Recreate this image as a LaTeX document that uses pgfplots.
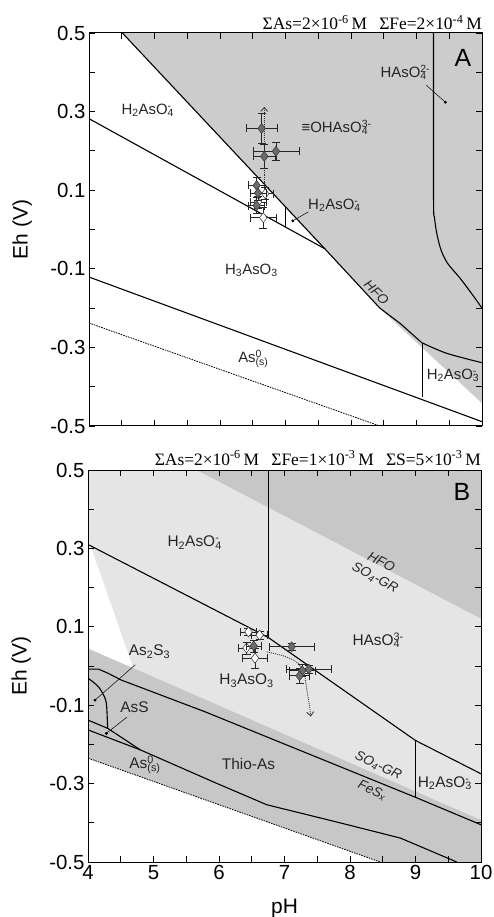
\documentclass[border=0pt]{standalone}
\usepackage{fontspec}
\setmainfont{Liberation Sans}
\newfontfamily\tnr{Liberation Serif}
\usepackage{pgfplots}
\pgfplotsset{compat=1.18}
\usetikzlibrary{arrows.meta}
\definecolor{gA}{gray}{0.80}
\definecolor{gL}{gray}{0.90}
\definecolor{gM}{gray}{0.78}
\definecolor{gD}{gray}{0.78}
\definecolor{mk}{gray}{0.42}
\newcommand{\subsup}[2]{\rlap{\textsubscript{#1}}\textsuperscript{#2}}
\newcommand{\topnote}[1]{{\tnr\fontsize{17.5}{17.5}\selectfont #1}}
\tikzset{
  lab/.style={font=\fontsize{15}{15}\selectfont, text=black!85},
  labB/.style={font=\fontsize{15.5}{15.5}\selectfont, text=black!85},
  rlab/.style={font=\fontsize{13.5}{13.5}\selectfont\itshape, text=black!85},
}
\pgfplotsset{
  pd/.style={
    scale only axis, width=393bp, height=393bp,
    xmin=4, xmax=10, ymin=-0.5, ymax=0.5,
    xtick={4,5,6,7,8,9,10}, minor x tick num=1,
    ytick={-0.5,-0.3,-0.1,0.1,0.3,0.5},
    yticklabels={-0.5,-0.3,-0.1,0.1,0.3,0.5},
    minor y tick num=1,
    major tick length=6bp, minor tick length=6bp,
    tick style={black, line width=0.8pt},
    axis line style={line width=1pt},
    tick label style={font=\fontsize{20.5}{20.5}\selectfont},
    axis on top, clip mode=individual,
    ylabel={Eh (V)},
    ylabel style={font=\fontsize{21}{21}\selectfont, at={(axis description cs:-0.17,0.5)}, anchor=center},
    every axis plot/.append style={line width=1.1pt},
  },
  dsh/.style={black, line width=0.8pt, dash pattern=on 1.6pt off 1pt},
  ebar/.style={error bars/.cd, x dir=both, x explicit, y dir=both, y explicit,
    error bar style={line width=0.7pt, black!85},
    error mark options={rotate=90, mark size=4bp, line width=0.7pt, black!85}},
  pts/.style={only marks, mark=diamond*, mark size=5bp,
    mark options={fill=mk, draw=black!80, line width=0.5pt}, ebar},
  opts/.style={only marks, mark=diamond*, mark size=5bp,
    mark options={fill=white, draw=black!80, line width=0.5pt}, ebar},
}
\begin{document}
\begin{tikzpicture}
\path[use as bounding box] (0,0) rectangle (494bp,917bp);
% ---------------- Panel A ----------------
\begin{axis}[pd, at={(89bp,491bp)}, anchor=south west, xticklabels={}]
\addplot[fill=gA, draw=none] coordinates {(4.51,0.5) (10,0.5) (10,-0.442) (8.5,-0.21)} -- cycle;
% HFO boundary
\addplot[black] coordinates {(4.51,0.5) (7.60,-0.049) (8.44,-0.200) (8.75,-0.239) (9.08,-0.288)};
% H2AsO4-/H3AsO3
\addplot[black] coordinates {(4,0.282) (7.60,-0.049)};
\addplot[black] coordinates {(7.0,0.057) (7.0,0.006)};
% HAsO4 2- boundary
\addplot[black, smooth] coordinates {(9.26,0.5) (9.26,0.08) (9.275,0.03) (9.31,-0.01) (9.37,-0.05) (9.47,-0.085) (9.67,-0.125) (9.85,-0.165) (10,-0.2)};
% H2AsO3- boundary
\addplot[black, smooth] coordinates {(9.08,-0.288) (9.46,-0.315) (10,-0.339)};
\addplot[black] coordinates {(9.09,-0.288) (9.09,-0.425)};
% As0 line
\addplot[black] coordinates {(4,-0.121) (10,-0.489)};
\addplot[dsh] coordinates {(4,-0.238) (8.44,-0.5)};
% pointers
\addplot[black, line width=0.5pt, mark=*, mark indices={2}, mark size=1.2bp] coordinates {(9.15,0.367) (9.44,0.324)};
\addplot[black, line width=0.5pt, mark=*, mark indices={2}, mark size=1.2bp] coordinates {(7.35,0.045) (7.11,0.022)};
% dotted arrow
\addplot[black!80, densely dotted, line width=0.8pt, -{Straight Barb[length=4bp,width=7bp]}] coordinates {(6.676,0.10) (6.676,0.312)};
% data
\addplot[opts] coordinates {(6.69,0.091) +- (0.12,0.015) (6.66,0.030) +- (0.2,0.027) (6.58,0.07) +- (0.12,0.015)};
\addplot[pts] coordinates {(6.635,0.257) +- (0.235,0.039) (6.676,0.186) +- (0.17,0.03) (6.854,0.199) +- (0.35,0.022) (6.56,0.112) +- (0.12,0.02) (6.58,0.093) +- (0.12,0.02) (6.56,0.061) +- (0.12,0.02)};
% labels
\node[lab] at (axis cs:4.88,0.303) {H\textsubscript{2}AsO\subsup{4}{-}};
\node[lab] at (axis cs:7.78,0.26) {≡OHAsO\subsup{4}{3-}};
\node[lab] at (axis cs:8.83,0.40) {HAsO\subsup{4}{2-}};
\node[lab] at (axis cs:7.73,0.061) {H\textsubscript{2}AsO\subsup{4}{-}};
\node[lab] at (axis cs:6.48,-0.104) {H\textsubscript{3}AsO\textsubscript{3}};
\node[rlab, rotate=-45] at (axis cs:8.39,-0.160) {HFO};
\node[lab] at (axis cs:6.46,-0.329) {As\subsup{(s)}{0}};
\node[lab] at (axis cs:9.54,-0.371) {H\textsubscript{2}AsO\subsup{3}{-}};
\node[font=\fontsize{25}{25}\selectfont] at (axis cs:9.71,0.436) {A};
\node[anchor=base east, inner sep=0pt, yshift=3bp] at (rel axis cs:1,1) {\topnote{ΣAs=2×10\textsuperscript{-6}\,M\hspace{0.7em}ΣFe=2×10\textsuperscript{-4}\,M}};
\end{axis}
% ---------------- Panel B ----------------
\begin{axis}[pd, at={(88bp,55bp)}, anchor=south west, height=392bp, xlabel={pH},
  xticklabels={4,5,6,7,8,9,10},
  xlabel style={font=\fontsize{21}{21}\selectfont, at={(axis description cs:0.5,-0.118)}, anchor=center}]
\addplot[fill=gL, draw=none] coordinates {(4,-0.5) (10,-0.5) (10,0.5) (4,0.5)} -- cycle;
\addplot[fill=gD, draw=none] coordinates {(5.66,0.5) (10,0.5) (10,0.121)} -- cycle;
\addplot[fill=gM, draw=none] coordinates {(4,0.045) (10,-0.393) (10,-0.5) (8.46,-0.5) (4,-0.235)} -- cycle;
\addplot[fill=white, draw=none] coordinates {(4,0.325) (4.69,-0.005) (4,0.045)} -- cycle;
\addplot[fill=white, draw=none] coordinates {(4,-0.235) (8.46,-0.5) (4,-0.5)} -- cycle;
% lines
\addplot[black] coordinates {(4,0.31) (6.75,0.073) (9,-0.19) (10,-0.275)};
\addplot[black] coordinates {(6.75,0.5) (6.75,0.073)};
\addplot[black] coordinates {(9,-0.19) (9,-0.335)};
\addplot[black] coordinates {(4,-0.008) (4.16,-0.008) (4.3,-0.018) (4.51,-0.036) (5.79,-0.117) (9,-0.335) (10,-0.405)};
\addplot[black, smooth] coordinates {(4,-0.031) (4.16,-0.053) (4.26,-0.082) (4.285,-0.104) (4.30,-0.159)};
\addplot[black] coordinates {(4,-0.138) (4.30,-0.159) (4.8,-0.214)};
\addplot[black] coordinates {(4,-0.163) (4.8,-0.214)};
\addplot[black] coordinates {(4.8,-0.214) (5.96,-0.299) (6.73,-0.354) (7.75,-0.396) (8.77,-0.439) (9.63,-0.5)};
\addplot[dsh] coordinates {(4,-0.235) (8.46,-0.5)};
% pointers
\addplot[black, line width=0.5pt, mark=*, mark indices={2}, mark size=1.2bp] coordinates {(4.72,0.003) (4.107,-0.087)};
\addplot[black, line width=0.5pt, mark=*, mark indices={2}, mark size=1.2bp] coordinates {(4.59,-0.131) (4.28,-0.172)};
% dotted arrow
\addplot[black!80, densely dotted, line width=0.8pt, smooth, -{Straight Barb[length=4bp,width=7bp]}] coordinates {(6.73,0.036) (7.0,0.025) (7.2,0.008) (7.3,-0.02) (7.34,-0.06) (7.38,-0.1) (7.40,-0.129)};
% data
\addplot[opts] coordinates {(6.45,0.087) +- (0.12,0.01) (6.62,0.079) +- (0.12,0.01) (6.42,0.046) +- (0.12,0.015) (6.55,0.020) +- (0.19,0.026)};
\addplot[pts] coordinates {(7.11,0.049) +- (0.34,0.01) (7.37,-0.008) +- (0.34,0.01) (7.27,-0.012) +- (0.2,0.015) (7.23,-0.025) +- (0.15,0.02) (6.53,0.051) +- (0.12,0.015)};
% labels
\node[labB] at (axis cs:5.61,0.315) {H\textsubscript{2}AsO\subsup{4}{-}};
\node[labB] at (axis cs:8.43,0.066) {HAsO\subsup{4}{3-}};
\node[labB] at (axis cs:6.42,-0.038) {H\textsubscript{3}AsO\textsubscript{3}};
\node[labB] at (axis cs:4.94,0.036) {As\textsubscript{2}S\textsubscript{3}};
\node[labB] at (axis cs:4.71,-0.104) {AsS};
\node[labB] at (axis cs:4.82,-0.252) {As\subsup{(s)}{0}};
\node[labB] at (axis cs:6.45,-0.250) {Thio-As};
\node[labB] at (axis cs:9.43,-0.299) {H\textsubscript{2}AsO\subsup{3}{-}};
\node[rlab, rotate=-28, inner sep=1pt] at (axis cs:8.48,0.266) {HFO};
\node[rlab, rotate=-28, inner sep=1pt] at (axis cs:8.38,0.224) {SO\textsubscript{4}-GR};
\node[rlab, rotate=-25, inner sep=1pt] at (axis cs:8.43,-0.255) {SO\textsubscript{4}-GR};
\node[rlab, rotate=-25, inner sep=1pt] at (axis cs:8.34,-0.318) {FeS\textsubscript{x}};
\node[font=\fontsize{25}{25}\selectfont] at (axis cs:9.71,0.444) {B};
\node[anchor=base east, inner sep=0pt, yshift=5bp] at (rel axis cs:1,1) {\topnote{ΣAs=2×10\textsuperscript{-6}\,M\hspace{0.7em}ΣFe=1×10\textsuperscript{-3}\,M\hspace{0.7em}ΣS=5×10\textsuperscript{-3}\,M}};
\end{axis}
\end{tikzpicture}
\end{document}
